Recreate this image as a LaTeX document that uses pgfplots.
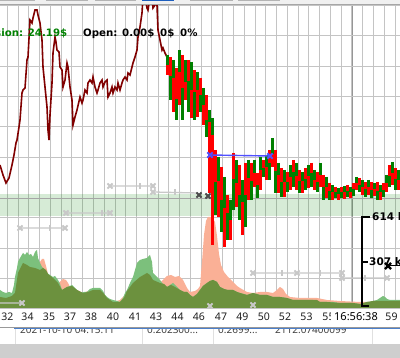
\documentclass[border=0pt]{standalone}
\usepackage{pgfplots}
\pgfplotsset{compat=1.18}
\usepackage{fontspec}
\setmainfont{DejaVu Sans}
\newfontfamily\notosans{Noto Sans}
\definecolor{maroonl}{RGB}{128,0,0}
\definecolor{cgreen}{RGB}{0,128,0}
\definecolor{cred}{RGB}{255,0,0}
\definecolor{volsal}{RGB}{250,176,150}
\definecolor{volgrn}{RGB}{124,192,124}
\definecolor{vololv}{RGB}{108,145,62}
\definecolor{gridc}{RGB}{196,196,196}
\definecolor{darkgrid}{RGB}{150,150,150}
\definecolor{tradec}{RGB}{200,200,200}
\definecolor{bluel}{RGB}{80,80,255}
\definecolor{topbar}{RGB}{240,240,240}
\definecolor{tabg}{RGB}{180,180,180}
\definecolor{tabb}{RGB}{30,95,190}
\definecolor{botg}{RGB}{206,206,206}

\begin{document}
\begin{tikzpicture}
\begin{axis}[
  scale only axis, width=400pt, height=358pt,
  xmin=0, xmax=400, ymin=0, ymax=358, y dir=reverse,
  axis line style={draw=none}, ticks=none,
  clip=true,
  cand/.style={draw=#1, line width=3pt, line cap=butt, mark=none, unbounded coords=jump, forget plot},
]
% grid
\pgfplotsinvokeforeach{0,...,36}{
  \draw[gridc, line width=1pt] (axis cs:{7.3+10.77*#1},0) -- (axis cs:{7.3+10.77*#1},309);
}
\draw[darkgrid, line width=1pt] (axis cs:352,0) -- (axis cs:352,309);
\pgfplotsinvokeforeach{5.7,36,66.3,96.6,126.9,157.3,217.4,248.3,278.4,308.7}{
  \draw[gridc, line width=1pt] (axis cs:0,#1) -- (axis cs:400,#1);
}
% support band
\fill[cgreen, fill opacity=0.16] (axis cs:0,194) rectangle (axis cs:400,215.8);
\draw[darkgrid!85, line width=0.9pt] (axis cs:0,198.3) -- (axis cs:400,198.3);

% volume areas
\addplot[draw=none, fill=volsal] coordinates {(0,308) (0,297) (6,298) (12,296) (15,293) (18,273) (23,263) (27,265) (30,267) (35,268) (40,262) (42,259) (44,259) (46,266) (48,274) (53,278) (58,283) (61,281) (63,279) (66,280) (68,283) (70,287) (77,290) (83,293) (88,291) (93,290) (100,290) (104,294) (107,298) (113,302) (120,300) (124,296) (127,291) (130,287) (133,283) (140,277) (147,273) (150,275) (153,280) (160,283) (164,279) (167,276) (171,275) (175,277) (179,276) (183,280) (187,288) (190,292) (195,291) (198,289) (200,286) (202,262) (204,235) (206,221) (208,217) (212,217) (215,222) (217,236) (219,254) (221,265) (224,272) (228,277) (233,282) (237,286) (240,288) (247,292) (253,293) (260,292) (267,292) (273,293) (277,290) (280,287) (283,289) (286,294) (290,297) (300,298) (310,298) (317,298) (327,300) (340,301) (360,302) (367,302) (380,301) (387,301) (400,301) (400,308)} -- cycle;
\addplot[draw=none, fill=volgrn] coordinates {(0,308) (0,290) (3,292) (6,293) (9,292) (12,293) (14,285) (15,277) (17,268) (18,262) (20,258) (23,253) (25,255) (27,252) (29,255) (31,254) (33,257) (35,252) (37,250) (38,258) (40,263) (42,267) (43,268) (45,270) (47,273) (50,275) (53,277) (55,276) (58,280) (60,284) (62,290) (64,289) (67,287) (70,286) (72,285) (75,288) (77,290) (80,293) (84,292) (87,292) (90,289) (93,288) (97,288) (100,288) (103,291) (105,295) (107,297) (110,299) (113,300) (117,301) (120,302) (123,298) (125,293) (127,290) (130,283) (133,277) (135,270) (137,263) (140,260) (143,259) (147,258) (149,256) (150,255) (152,262) (153,273) (157,277) (160,280) (163,284) (167,287) (170,285) (173,283) (177,287) (180,290) (184,292) (187,292) (190,295) (193,297) (197,294) (200,290) (203,286) (207,283) (210,281) (213,280) (217,282) (220,287) (224,289) (227,290) (233,290) (237,292) (240,293) (244,294) (247,295) (250,294) (253,293) (257,294) (260,295) (267,295) (273,297) (280,297) (287,298) (293,300) (300,300) (307,300) (313,300) (320,302) (327,302) (333,302) (340,303) (347,303) (353,303) (360,304) (364,303) (367,302) (370,302) (373,301) (377,300) (380,298) (383,296) (385,297) (387,299) (390,300) (393,300) (397,300) (400,300) (400,308)} -- cycle;
\addplot[draw=none, fill=vololv] coordinates {(0,308) (0,297) (6,298) (12,296) (15,293) (18,273) (23,263) (27,265) (30,267) (35,268) (40,270) (43,268) (46,270) (48,274) (53,278) (58,283) (62,290) (67,287) (72,286) (77,290) (83,293) (88,292) (93,290) (100,290) (104,294) (107,298) (113,302) (120,302) (124,298) (127,291) (130,287) (133,283) (140,277) (147,273) (150,275) (153,280) (160,283) (164,284) (167,287) (171,285) (175,287) (180,290) (184,292) (187,292) (190,295) (193,297) (197,294) (200,290) (203,286) (207,283) (210,281) (213,280) (217,282) (220,287) (224,289) (228,290) (233,290) (237,292) (240,293) (247,295) (253,293) (260,295) (267,295) (273,297) (280,297) (287,298) (293,300) (300,300) (310,300) (317,300) (320,302) (327,302) (340,303) (353,303) (360,304) (367,302) (373,301) (380,301) (387,301) (390,301) (400,301) (400,308)} -- cycle;

% trade history (gray)
\addplot[unbounded coords=jump, draw=tradec, line width=1.3pt] coordinates {(0,303) (22,303) (22,nan) (20,228) (65,228) (65,nan) (66,213) (110,213) (110,nan) (110,186) (153,186) (153,nan) (153,192) (198,193) (198,nan) (253,273) (297,273) (342,273) (342,nan) (342,278) (387,278)};
\addplot[draw=none, mark=|, mark size=3pt, mark options={draw=tradec, line width=1.2pt}] coordinates {(50,228) (102,213) (140,186) (175,192) (282,273) (320,273) (365,278)};
\addplot[draw=none, mark=x, mark size=3.6pt, mark options={draw=tradec, line width=1.8pt}] coordinates {(22,303) (20,228) (65,228) (66,213) (110,213) (110,186) (153,186) (153,192) (253,273) (297,273) (342,273) (342,278) (387,278) (210,306) (253,305)};
\addplot[draw=none, mark=x, mark size=3.6pt, mark options={draw=black!70, line width=1.8pt}] coordinates {(199,195) (208,196)};

% price line
\addplot[draw=maroonl, line width=1.6pt, mark=none] coordinates {(0,165) (3,175) (6,183) (9,178) (12,165) (14,155) (16,143) (17,140) (19,127) (20,120) (22,93) (23,90) (25,88) (27,60) (28,57) (30,20) (32,23) (33,18) (35,10) (37,10) (38,15) (40,23) (42,40) (43,67) (45,87) (47,107) (48,130) (49,140) (50,115) (52,83) (53,53) (55,37) (56,42) (57,50) (59,52) (60,67) (62,70) (63,87) (65,80) (67,63) (68,67) (70,87) (72,100) (73,125) (75,117) (77,110) (80,97) (82,103) (83,100) (85,90) (87,93) (88,83) (90,80) (92,83) (93,77) (95,87) (97,93) (98,90) (100,83) (102,80) (103,87) (105,82) (107,80) (108,97) (110,93) (112,87) (113,93) (115,87) (117,90) (118,83) (120,90) (122,83) (123,80) (125,77) (127,80) (128,73) (130,75) (132,67) (133,63) (135,57) (137,50) (138,37) (140,27) (142,13) (143,-3) (145,-3) (147,8) (148,10) (150,-3) (152,-3) (153,8) (155,5) (156,-3) (157,5) (158,30) (160,40) (162,50) (163,48) (165,53) (167,57)};

% candles: red bodies
\addplot[cand=cred] coordinates {
(167,65) (167,75) (167,nan) (173,78) (173,112) (173,nan) (179,72) (179,105) (179,nan) (185,82) (185,100) (185,nan) (191,90) (191,118) (191,nan) (197,90) (197,117) (197,nan) (203,105) (203,125) (203,nan) (209,122) (209,193) (209,nan) (212,135) (212,245) (212,nan) (218,181) (218,217) (218,nan) (224,208) (224,247) (224,nan) (230,220) (230,240) (230,nan) (236,183) (236,207) (236,nan) (242,202) (242,235) (242,nan) (248,178) (248,200) (248,nan) (254,173) (254,187) (254,nan) (260,170) (260,190) (260,nan) (266,167) (266,180) (266,nan) (272,154) (272,167) (272,nan) (278,175) (278,193) (278,nan) (284,182) (284,197) (284,nan) (290,177) (290,190) (290,nan) (296,176) (296,190) (296,nan) (302,181) (302,193) (302,nan) (308,176) (308,188) (308,nan) (314,180) (314,190) (314,nan) (320,175) (320,187) (320,nan) (326,187) (326,198) (326,nan) (332,192) (332,200) (332,nan) (338,194) (338,200) (338,nan) (344,192) (344,199) (344,nan) (350,192) (350,198) (350,nan) (356,183) (356,190) (356,nan) (362,187) (362,195) (362,nan) (368,187) (368,195) (368,nan) (374,189) (374,196) (374,nan) (380,192) (380,200) (380,nan) (386,183) (386,192) (386,nan) (392,173) (392,185) (392,nan) (398,180) (398,190) (398,nan)
(170,57) (170,76) (170,nan) (176,68) (176,99) (176,nan) (182,55) (182,88) (182,nan) (188,60) (188,81) (188,nan) (194,70) (194,92) (194,nan) (200,78) (200,95) (200,nan) (206,95) (206,120) (206,nan) (215,150) (215,182) (215,nan) (221,167) (221,200) (221,nan) (227,195) (227,213) (227,nan) (233,153) (233,179) (233,nan) (239,165) (239,195) (239,nan) (245,163) (245,195) (245,nan) (251,163) (251,181) (251,nan) (257,173) (257,185) (257,nan) (263,160) (263,168) (263,nan) (269,150) (269,163) (269,nan) (275,150) (275,171) (275,nan) (281,168) (281,182) (281,nan) (287,172) (287,182) (287,nan) (293,160) (293,172) (293,nan) (299,170) (299,181) (299,nan) (305,168) (305,179) (305,nan) (311,163) (311,173) (311,nan) (317,172) (317,182) (317,nan) (323,175) (323,187) (323,nan) (329,183) (329,191) (329,nan) (335,187) (335,192) (335,nan) (341,187) (341,192) (341,nan) (347,185) (347,191) (347,nan) (353,183) (353,189) (353,nan) (359,178) (359,185) (359,nan) (365,182) (365,189) (365,nan) (371,182) (371,190) (371,nan) (377,182) (377,191) (377,nan) (383,183) (383,190) (383,nan) (389,165) (389,176) (389,nan) (395,168) (395,179)
};
% candles: green bodies
\addplot[cand=cgreen] coordinates {
(167,55) (167,65) (167,nan) (173,60) (173,78) (173,nan) (179,50) (179,72) (179,nan) (185,60) (185,82) (185,nan) (191,62) (191,90) (191,nan) (197,72) (197,90) (197,nan) (203,88) (203,105) (203,nan) (209,110) (209,122) (209,nan) (212,118) (212,135) (212,nan) (218,157) (218,181) (218,nan) (224,177) (224,208) (224,nan) (230,200) (230,220) (230,nan) (236,160) (236,183) (236,nan) (242,180) (242,202) (242,nan) (248,160) (248,178) (248,nan) (254,160) (254,173) (254,nan) (260,157) (260,170) (260,nan) (266,155) (266,167) (266,nan) (272,138) (272,154) (272,nan) (278,163) (278,175) (278,nan) (284,170) (284,182) (284,nan) (290,165) (290,177) (290,nan) (296,163) (296,176) (296,nan) (302,172) (302,181) (302,nan) (308,165) (308,176) (308,nan) (314,170) (314,180) (314,nan) (320,163) (320,175) (320,nan) (326,177) (326,187) (326,nan) (332,185) (332,192) (332,nan) (338,188) (338,194) (338,nan) (344,186) (344,192) (344,nan) (350,187) (350,192) (350,nan) (356,177) (356,183) (356,nan) (362,180) (362,187) (362,nan) (368,180) (368,187) (368,nan) (374,183) (374,189) (374,nan) (380,185) (380,192) (380,nan) (386,175) (386,183) (386,nan) (392,162) (392,173) (392,nan) (398,170) (398,180) (398,nan)
(170,76) (170,100) (170,nan) (176,99) (176,120) (176,nan) (182,88) (182,120) (182,nan) (188,81) (188,112) (188,nan) (194,92) (194,120) (194,nan) (200,95) (200,112) (200,nan) (206,120) (206,137) (206,nan) (215,182) (215,215) (215,nan) (221,200) (221,232) (221,nan) (227,213) (227,240) (227,nan) (233,179) (233,210) (233,nan) (239,195) (239,220) (239,nan) (245,195) (245,227) (245,nan) (251,181) (251,200) (251,nan) (257,185) (257,198) (257,nan) (263,168) (263,177) (263,nan) (269,163) (269,180) (269,nan) (275,171) (275,193) (275,nan) (281,182) (281,197) (281,nan) (287,182) (287,192) (287,nan) (293,172) (293,187) (293,nan) (299,181) (299,193) (299,nan) (305,179) (305,190) (305,nan) (311,173) (311,187) (311,nan) (317,182) (317,192) (317,nan) (323,187) (323,200) (323,nan) (329,191) (329,200) (329,nan) (335,192) (335,198) (335,nan) (341,192) (341,198) (341,nan) (347,191) (347,197) (347,nan) (353,189) (353,196) (353,nan) (359,185) (359,192) (359,nan) (365,189) (365,197) (365,nan) (371,190) (371,198) (371,nan) (377,191) (377,200) (377,nan) (383,190) (383,197) (383,nan) (389,176) (389,187) (389,nan) (395,179) (395,190)
};

% blue position line
\addplot[draw=bluel, line width=1.4pt, mark=x, mark size=3.8pt, mark options={line width=1.8pt, draw=bluel}] coordinates {(210,155) (270,156)};

% info text
\node[anchor=base west, text=cgreen, font=\bfseries\fontsize{10.2}{12}\selectfont, inner sep=0pt] at (axis cs:-5,36.8) {sion: 24.19\$};
\node[anchor=base west, text=black, font=\bfseries\fontsize{10.2}{12}\selectfont, inner sep=0pt] at (axis cs:83,36.8) {Open: 0.00\$};
\node[anchor=base west, text=black, font=\bfseries\fontsize{10.2}{12}\selectfont, inner sep=0pt] at (axis cs:160,36.8) {0\$};
\node[anchor=base west, text=black, font=\bfseries\fontsize{10.2}{12}\selectfont, inner sep=0pt] at (axis cs:180,36.8) {0\%};

% volume scale bracket
\draw[black, line width=2pt] (axis cs:370,217) -- (axis cs:362,217) -- (axis cs:362,306.5) -- (axis cs:369,306.5);
\draw[black, line width=1.5pt] (axis cs:362,262) -- (axis cs:368,262);
\node[anchor=west, font=\bfseries\fontsize{10.5}{12}\selectfont, inner sep=0pt] at (axis cs:372,217) {614 k};
\node[anchor=west, font=\bfseries\fontsize{10.5}{12}\selectfont, inner sep=0pt] at (axis cs:369,262) {307 k};
\addplot[draw=black, line width=1.2pt, mark=none] coordinates {(388,265.5) (400,265.5)};
\addplot[draw=none, mark=x, mark size=4.3pt, mark options={draw=black, line width=2.2pt}] coordinates {(388,266)};

% bottom area
\fill[white] (axis cs:0,309.2) rectangle (axis cs:400,358);
\node[anchor=base west, font=\notosans\fontsize{10}{12}\selectfont, text=black!75, inner sep=0pt] at (axis cs:20,334) {2021-10-10 04:15:11};
\node[anchor=base west, font=\notosans\fontsize{10}{12}\selectfont, text=black!75, inner sep=0pt] at (axis cs:147,334) {0.202300...};
\node[anchor=base west, font=\notosans\fontsize{10}{12}\selectfont, text=black!75, inner sep=0pt] at (axis cs:218,334) {0.2699...};
\node[anchor=base west, font=\notosans\fontsize{10}{12}\selectfont, text=black!75, inner sep=0pt] at (axis cs:275,334) {2112.07400099};
\fill[white] (axis cs:0,321) rectangle (axis cs:400,327);
\node[font=\notosans\fontsize{10.5}{12}\selectfont, text=black!88, inner sep=0pt, anchor=base] at (axis cs:7.5,320.3) {32};
\node[font=\notosans\fontsize{10.5}{12}\selectfont, text=black!88, inner sep=0pt, anchor=base] at (axis cs:27.5,320.3) {34};
\node[font=\notosans\fontsize{10.5}{12}\selectfont, text=black!88, inner sep=0pt, anchor=base] at (axis cs:49,320.3) {35};
\node[font=\notosans\fontsize{10.5}{12}\selectfont, text=black!88, inner sep=0pt, anchor=base] at (axis cs:70,320.3) {37};
\node[font=\notosans\fontsize{10.5}{12}\selectfont, text=black!88, inner sep=0pt, anchor=base] at (axis cs:91,320.3) {38};
\node[font=\notosans\fontsize{10.5}{12}\selectfont, text=black!88, inner sep=0pt, anchor=base] at (axis cs:113,320.3) {40};
\node[font=\notosans\fontsize{10.5}{12}\selectfont, text=black!88, inner sep=0pt, anchor=base] at (axis cs:135,320.3) {41};
\node[font=\notosans\fontsize{10.5}{12}\selectfont, text=black!88, inner sep=0pt, anchor=base] at (axis cs:156,320.3) {43};
\node[font=\notosans\fontsize{10.5}{12}\selectfont, text=black!88, inner sep=0pt, anchor=base] at (axis cs:177.5,320.3) {44};
\node[font=\notosans\fontsize{10.5}{12}\selectfont, text=black!88, inner sep=0pt, anchor=base] at (axis cs:199,320.3) {46};
\node[font=\notosans\fontsize{10.5}{12}\selectfont, text=black!88, inner sep=0pt, anchor=base] at (axis cs:221,320.3) {47};
\node[font=\notosans\fontsize{10.5}{12}\selectfont, text=black!88, inner sep=0pt, anchor=base] at (axis cs:242.5,320.3) {49};
\node[font=\notosans\fontsize{10.5}{12}\selectfont, text=black!88, inner sep=0pt, anchor=base] at (axis cs:264,320.3) {50};
\node[font=\notosans\fontsize{10.5}{12}\selectfont, text=black!88, inner sep=0pt, anchor=base] at (axis cs:285,320.3) {52};
\node[font=\notosans\fontsize{10.5}{12}\selectfont, text=black!88, inner sep=0pt, anchor=base] at (axis cs:306.5,320.3) {53};
\node[font=\notosans\fontsize{10.5}{12}\selectfont, text=black!88, inner sep=0pt, anchor=base] at (axis cs:328.5,320.3) {55};
\node[font=\notosans\fontsize{10.5}{12}\selectfont, text=black!88, inner sep=0pt, anchor=base] at (axis cs:391.5,320.3) {59};
\node[font=\notosans\bfseries\fontsize{11}{12}\selectfont, fill=white, inner xsep=3pt, inner ysep=1pt, anchor=base] at (axis cs:356,320.3) {16:56:38};
\draw[black!40, line width=0.9pt] (axis cs:0,327.2) -- (axis cs:400,327.2);
\draw[tabb!80, line width=0.9pt] (axis cs:14,328.4) -- (axis cs:400,328.4);
\draw[black!12, line width=0.8pt] (axis cs:15,329) -- (axis cs:15,344.5);
\draw[black!12, line width=0.8pt] (axis cs:142,329) -- (axis cs:142,344.5);
\draw[black!12, line width=0.8pt] (axis cs:213,329) -- (axis cs:213,344.5);
\draw[black!12, line width=0.8pt] (axis cs:372,329) -- (axis cs:372,344.5);
\fill[botg] (axis cs:0,344.5) rectangle (axis cs:400,358);

% top bar
\fill[topbar] (axis cs:0,0) rectangle (axis cs:400,5.4);
\fill[tabg] (axis cs:0,0) rectangle (axis cs:35,1.2);
\fill[tabg] (axis cs:46,0) rectangle (axis cs:88,1.2);
\fill[tabg] (axis cs:95,0) rectangle (axis cs:136,1.2);
\fill[tabb] (axis cs:142,0) rectangle (axis cs:174,1.2);
\fill[tabg] (axis cs:190,0) rectangle (axis cs:233,1.2);
\fill[tabg] (axis cs:238,0) rectangle (axis cs:280,1.2);
\fill[black!35] (axis cs:0,4.2) rectangle (axis cs:400,5.5);
\end{axis}
\pgfresetboundingbox
\useasboundingbox (current axis.south west) rectangle (current axis.north east);
\end{tikzpicture}
\end{document}
